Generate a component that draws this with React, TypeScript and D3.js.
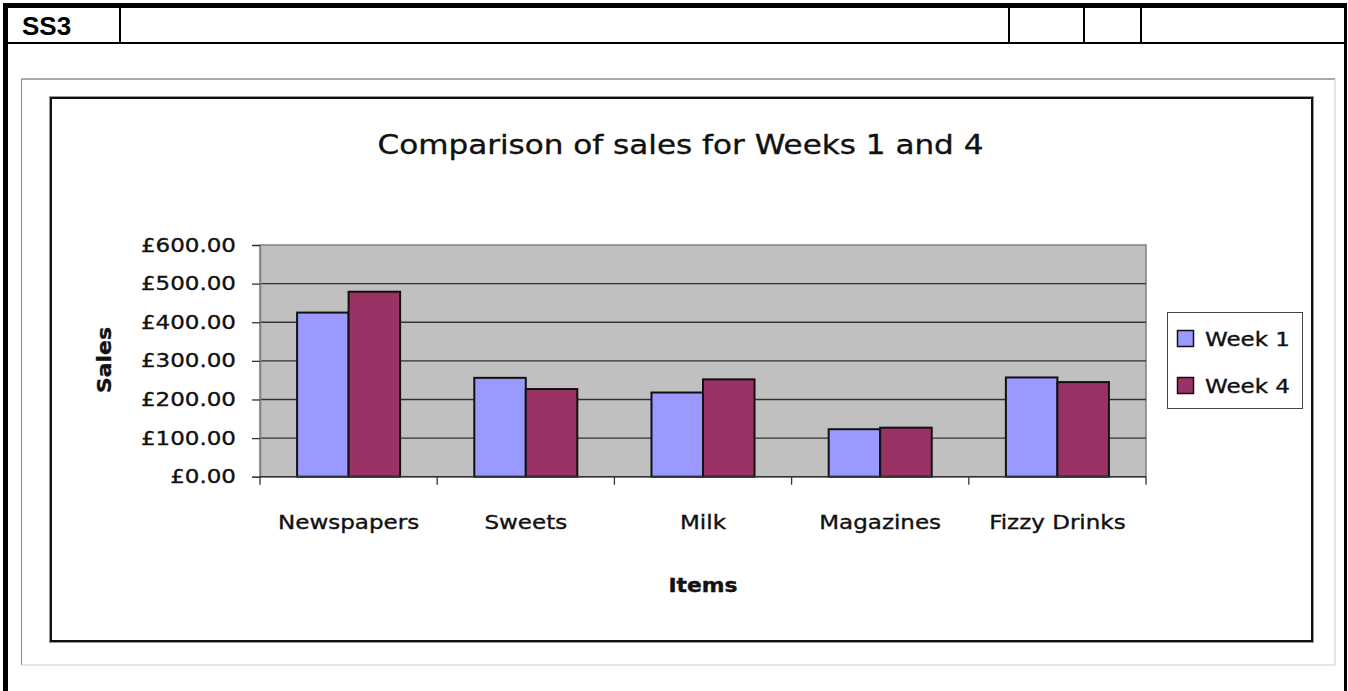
import React, { useEffect, useRef } from 'react';
import * as d3 from 'd3';

const items = ['Newspapers', 'Sweets', 'Milk', 'Magazines', 'Fizzy Drinks'];
const seriesNames = ['Week 1', 'Week 4'];
const week1 = [425, 256, 218, 123, 257];
const week4 = [479, 227, 252, 127, 245];
const yTicks = [0, 100, 200, 300, 400, 500, 600];
const headerDividers = [120, 1009, 1084, 1141];

const W = 1348;
const H = 691;
const FONT = '"DejaVu Sans", Verdana, sans-serif';
const STRETCH = 1.15; // the original chart looks stretched sideways
const colors = ['#9999FF', '#993366'];

const App = () => {
    const ref = useRef<SVGSVGElement>(null);

    useEffect(() => {
        if (!ref.current) return;
        const svg = d3.select(ref.current);
        svg.selectAll('*').remove();

        // stretch text sideways and thicken it a little, like the scanned original
        const stretch = (sel: any) =>
            sel.each(function (this: SVGTextElement) {
                const len = this.getComputedTextLength();
                d3.select(this)
                    .attr('textLength', len * STRETCH)
                    .attr('lengthAdjust', 'spacingAndGlyphs')
                    .attr('stroke', '#111')
                    .attr('stroke-width', 0.35);
            });

        // document table frame
        const frame = svg.append('g');
        frame.append('rect').attr('x', 3).attr('y', 3).attr('width', 1344).attr('height', 5).attr('fill', '#000');
        frame.append('rect').attr('x', 3).attr('y', 3).attr('width', 5).attr('height', H).attr('fill', '#000');
        frame.append('rect').attr('x', 1344).attr('y', 3).attr('width', 3).attr('height', H).attr('fill', '#000');
        frame.append('rect').attr('x', 3).attr('y', 42).attr('width', 1344).attr('height', 2).attr('fill', '#000');
        headerDividers.forEach(x =>
            frame.append('rect').attr('x', x - 1).attr('y', 8).attr('width', 2).attr('height', 34).attr('fill', '#000'));
        frame.append('text').attr('x', 22).attr('y', 34.5)
            .attr('font-family', '"Liberation Sans", Arial, sans-serif').attr('font-weight', 'bold')
            .attr('font-size', 26).text('SS3');

        // chart object borders
        const outer = { x0: 21.5, y0: 79, x1: 1335, y1: 665 };
        svg.append('line').attr('x1', outer.x0).attr('y1', outer.y0).attr('x2', outer.x1).attr('y2', outer.y0).attr('stroke', '#555');
        svg.append('line').attr('x1', outer.x0).attr('y1', outer.y0).attr('x2', outer.x0).attr('y2', outer.y1).attr('stroke', '#888');
        svg.append('line').attr('x1', outer.x1).attr('y1', outer.y0).attr('x2', outer.x1).attr('y2', outer.y1).attr('stroke', '#ccc');
        svg.append('line').attr('x1', outer.x0).attr('y1', outer.y1).attr('x2', outer.x1).attr('y2', outer.y1).attr('stroke', '#ccc');

        svg.append('rect').attr('x', 51).attr('y', 98).attr('width', 1261).attr('height', 543)
            .attr('fill', 'none').attr('stroke', '#999').attr('stroke-width', 4);
        svg.append('rect').attr('x', 51).attr('y', 98).attr('width', 1261).attr('height', 543)
            .attr('fill', '#fff').attr('stroke', '#111').attr('stroke-width', 2);

        svg.append('text').attr('x', 680.5).attr('y', 154).attr('text-anchor', 'middle')
            .attr('font-family', FONT).attr('font-size', 27).attr('fill', '#111')
            .text('Comparison of sales for Weeks 1 and 4').call(stretch);

        // plot area
        const left = 260, right = 1146, top = 245, bottom = 476.7;
        const y = d3.scaleLinear().domain([0, 600]).range([bottom, top]);
        const x0 = d3.scaleBand().domain(items).range([left, right]).padding(0);
        const x1 = d3.scaleBand().domain(seriesNames).range([0, x0.bandwidth()]).paddingInner(0).paddingOuter(0.72);

        svg.append('rect').attr('x', left).attr('y', top).attr('width', right - left).attr('height', bottom - top)
            .attr('fill', '#C0C0C0').attr('stroke', '#808080').attr('stroke-width', 1.5);

        svg.append('g').selectAll('line').data(yTicks.filter(d => d > 0 && d < 600)).join('line')
            .attr('x1', left).attr('x2', right).attr('y1', d => y(d)).attr('y2', d => y(d))
            .attr('stroke', '#333').attr('stroke-width', 1.4);

        const bars = svg.append('g');
        const series = [week1, week4];
        series.forEach((vals, si) => {
            bars.selectAll(null).data(vals).enter().append('rect')
                .attr('x', (d, i) => x0(items[i])! + x1(seriesNames[si])!)
                .attr('y', d => y(d))
                .attr('width', x1.bandwidth())
                .attr('height', d => bottom - y(d))
                .attr('fill', colors[si])
                .attr('stroke', '#111').attr('stroke-width', 2);
        });

        // axes
        const yAxis = svg.append('g').attr('transform', `translate(${left},0)`)
            .call(d3.axisLeft(y).tickValues(yTicks).tickSize(8).tickPadding(16).tickFormat(d => '£' + (+d).toFixed(2)));
        yAxis.select('.domain').attr('stroke', '#808080').attr('stroke-width', 1.5);
        yAxis.selectAll('.tick line').attr('stroke', '#333').attr('stroke-width', 1.3);
        yAxis.selectAll('.tick text').attr('font-family', FONT).attr('font-size', 20).attr('fill', '#111')
            .attr('dy', '0.3em').call(stretch);

        svg.append('line').attr('x1', left).attr('x2', right).attr('y1', bottom).attr('y2', bottom)
            .attr('stroke', '#333').attr('stroke-width', 1.5);
        const edges = items.map(d => x0(d)!).concat([right]);
        svg.append('g').selectAll('line').data(edges).join('line')
            .attr('x1', d => d).attr('x2', d => d).attr('y1', bottom).attr('y2', bottom + 8)
            .attr('stroke', '#333').attr('stroke-width', 1.3);

        svg.append('g').selectAll('text').data(items).join('text')
            .attr('x', d => x0(d)! + x0.bandwidth() / 2).attr('y', 529).attr('text-anchor', 'middle')
            .attr('font-family', FONT).attr('font-size', 20).attr('fill', '#111').text(d => d).call(stretch);

        svg.append('text').attr('x', 703).attr('y', 592).attr('text-anchor', 'middle')
            .attr('font-family', FONT).attr('font-size', 19).attr('font-weight', 'bold').attr('fill', '#111')
            .text('Items').call(stretch);

        svg.append('text').attr('transform', 'translate(111,360) rotate(-90)').attr('text-anchor', 'middle')
            .attr('font-family', FONT).attr('font-size', 19).attr('font-weight', 'bold').attr('fill', '#111')
            .text('Sales').call(stretch);

        // legend
        const legend = svg.append('g').attr('transform', 'translate(1167.5,312.5)');
        legend.append('rect').attr('width', 135).attr('height', 96).attr('fill', '#fff').attr('stroke', '#444');
        seriesNames.forEach((name, i) => {
            legend.append('rect').attr('x', 10).attr('y', 18 + i * 47).attr('width', 16).attr('height', 16)
                .attr('fill', colors[i]).attr('stroke', '#111').attr('stroke-width', 1.5);
            legend.append('text').attr('x', 37.5).attr('y', 33 + i * 47)
                .attr('font-family', FONT).attr('font-size', 20).attr('fill', '#111').text(name).call(stretch);
        });
    }, []);

    return (
        <svg ref={ref} width={W} height={H}
            style={{ position: 'absolute', left: 0, top: 0, background: '#fff', display: 'block' }} />
    );
};

export default App;
